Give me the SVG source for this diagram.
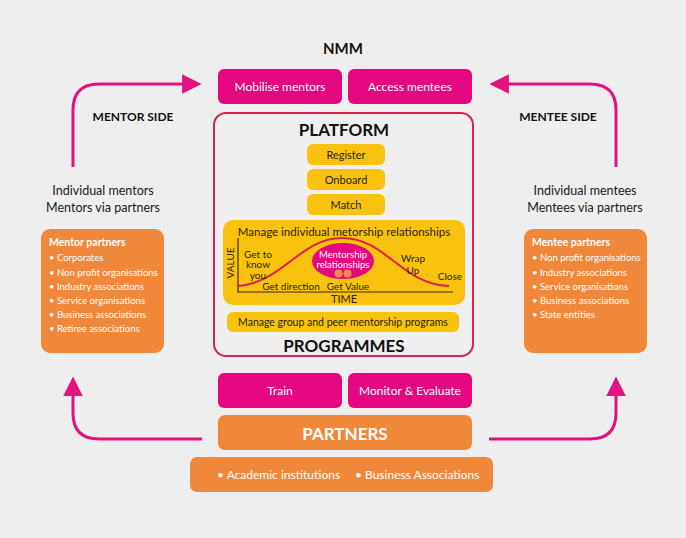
<svg xmlns="http://www.w3.org/2000/svg" width="686" height="538" viewBox="0 0 686 538">
<defs>
<style>
text{font-family:Lato,"Open Sans","Liberation Sans",sans-serif;}
.mag{fill:#e5077f;}
.org{fill:#f0883c;}
.yel{fill:#f9c20f;}
.wt{fill:#ffffff;font-size:12px;text-anchor:middle;}
.bk{fill:#1a1a1a;text-anchor:middle;}
.hd{font-weight:bold;fill:#111;text-anchor:middle;}
.yt{fill:#2a2200;font-size:11px;text-anchor:middle;}
.ct{fill:#2a2200;font-size:10px;text-anchor:middle;}
.li{fill:#ffffff;font-size:9.5px;}
.conn{fill:none;stroke:#e0137f;stroke-width:3;}
</style>
<marker id="ah" viewBox="0 0 10 10" refX="2" refY="5" markerWidth="6.5" markerHeight="6.5" orient="auto" markerUnits="strokeWidth">
<path d="M0,0 L10,5 L0,10 Z" fill="#e0137f"/>
</marker>
</defs>
<rect width="686" height="538" fill="#eeeeee"/>

<text x="343" y="54" class="hd" style="font-size:15px">NMM</text>

<g id="mobilise">
<rect x="218" y="69" width="124" height="35" rx="6" class="mag"/>
<text x="280" y="91" class="wt">Mobilise mentors</text>
</g>
<g id="access">
<rect x="348" y="69" width="124" height="35" rx="6" class="mag"/>
<text x="410" y="91" class="wt">Access mentees</text>
</g>

<g id="platform">
<rect x="214" y="113" width="259" height="243" rx="12" fill="#efefef" stroke="#d9214d" stroke-width="2"/>
<text x="344" y="136" class="hd" style="font-size:17px">PLATFORM</text>
<text x="344" y="352" class="hd" style="font-size:17px">PROGRAMMES</text>
</g>

<g id="register">
<rect x="307" y="144" width="78" height="21" rx="6" class="yel"/>
<text x="346" y="158.5" class="yt">Register</text>
</g>
<g id="onboard">
<rect x="307" y="169" width="78" height="21" rx="6" class="yel"/>
<text x="346" y="183.5" class="yt">Onboard</text>
</g>
<g id="match">
<rect x="307" y="194" width="78" height="21" rx="6" class="yel"/>
<text x="346" y="208.5" class="yt">Match</text>
</g>

<g id="manage-individual">
<rect x="223" y="220" width="242" height="85" rx="10" class="yel"/>
<text x="344" y="236" class="yt" style="font-size:11.5px">Manage individual metorship relationships</text>
<path d="M238,238 L238,292 L453,292" fill="none" stroke="#3a2a00" stroke-width="1.2"/>
<path d="M238,286 C284,282 300,238 342,238 C386,238 402,285 449,286" fill="none" stroke="#d9214d" stroke-width="2"/>
<text transform="translate(233.5,263) rotate(-90)" class="ct">VALUE</text>
<text x="258" y="257.5" class="ct">Get to</text>
<text x="258" y="268" class="ct">know</text>
<text x="258" y="278.5" class="ct">you</text>
<text x="291" y="290" class="ct">Get direction</text>
<text x="348" y="290" class="ct">Get Value</text>
<text x="413" y="262" class="ct">Wrap</text>
<text x="413" y="273.5" class="ct">Up</text>
<text x="450" y="280" class="ct">Close</text>
<text x="344" y="303" class="ct" style="font-size:11px">TIME</text>
<ellipse cx="343" cy="261" rx="31" ry="18" class="mag"/>
<text x="343" y="258" class="wt" style="font-size:9.5px">Mentorship</text>
<text x="343" y="268" class="wt" style="font-size:9.5px">relationships</text>
<circle cx="338.5" cy="273.5" r="4" fill="#f08a4a"/>
<circle cx="347.5" cy="273.5" r="4" fill="#f08a4a"/>
</g>

<g id="manage-group">
<rect x="227" y="312" width="232" height="20" rx="6" class="yel"/>
<text x="343" y="326" class="yt" style="font-size:10.5px">Manage group and peer mentorship programs</text>
</g>

<g id="train">
<rect x="218" y="373" width="124" height="35" rx="6" class="mag"/>
<text x="280" y="395" class="wt">Train</text>
</g>
<g id="monitor">
<rect x="348" y="373" width="124" height="35" rx="6" class="mag"/>
<text x="410" y="395" class="wt">Monitor &amp; Evaluate</text>
</g>

<g id="partners">
<rect x="218" y="415" width="254" height="35" rx="7" class="org"/>
<text x="345" y="439.5" class="wt" style="font-size:17px;font-weight:bold">PARTNERS</text>
</g>

<g id="partner-list">
<rect x="190" y="457" width="303" height="35" rx="7" class="org"/>
<text x="217" y="479" class="li" style="font-size:12px">• Academic institutions</text>
<text x="355" y="479" class="li" style="font-size:12px">• Business Associations</text>
</g>

<g id="mentors">
<text x="103" y="195" class="bk" style="font-size:12.5px">Individual mentors</text>
<text x="103" y="212" class="bk" style="font-size:12.5px">Mentors via partners</text>
<text x="133" y="121" class="hd" style="font-size:12px">MENTOR SIDE</text>
</g>
<g id="mentees">
<text x="585" y="195" class="bk" style="font-size:12.5px">Individual mentees</text>
<text x="585" y="212" class="bk" style="font-size:12.5px">Mentees via partners</text>
<text x="558" y="121" class="hd" style="font-size:12px">MENTEE SIDE</text>
</g>

<g id="mentor-partners">
<rect x="41" y="229" width="123" height="124" rx="9" class="org"/>
<text x="49" y="246" class="li" style="font-size:10.5px;font-weight:bold">Mentor partners</text>
<text x="49" y="261" class="li">• Corporates</text>
<text x="49" y="275.5" class="li">• Non profit organisations</text>
<text x="49" y="290" class="li">• Industry associations</text>
<text x="49" y="304" class="li">• Service organisations</text>
<text x="49" y="318" class="li">• Business associations</text>
<text x="49" y="332" class="li">• Retiree associations</text>
</g>

<g id="mentee-partners">
<rect x="524" y="229" width="123" height="124" rx="9" class="org"/>
<text x="532" y="246" class="li" style="font-size:10.5px;font-weight:bold">Mentee partners</text>
<text x="532" y="261" class="li">• Non profit organisations</text>
<text x="532" y="275.5" class="li">• Industry associations</text>
<text x="532" y="290" class="li">• Service organisations</text>
<text x="532" y="304" class="li">• Business associations</text>
<text x="532" y="318" class="li">• State entities</text>
</g>

<g id="connectors">
<path class="conn" d="M73,167 L73,110 Q73,84 99,84 L186,84" marker-end="url(#ah)"/>
<path class="conn" d="M616,167 L616,110 Q616,84 590,84 L505,84" marker-end="url(#ah)"/>
<path class="conn" d="M202,439 L99,439 Q73,439 73,413 L73,392" marker-end="url(#ah)"/>
<path class="conn" d="M489,439 L590,439 Q616,439 616,413 L616,392" marker-end="url(#ah)"/>
</g>
</svg>
